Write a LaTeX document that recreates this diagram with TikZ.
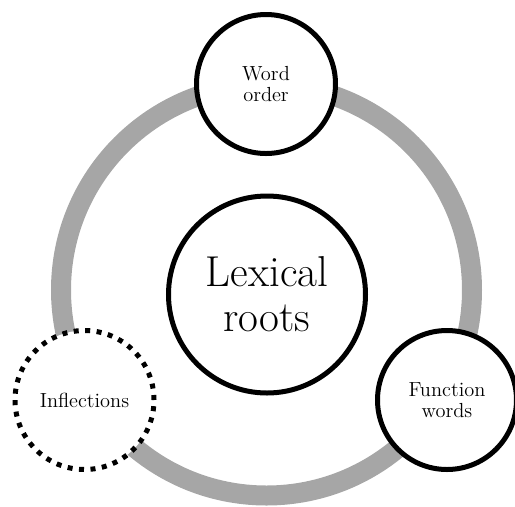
\documentclass[tikz,border=0pt]{standalone}
\usepackage{tikz}
\definecolor{ringgray}{HTML}{A6A6A6}
\tikzset{
  topic/.style={circle, draw=black, line width=0.1cm, fill=white,
    minimum size=2.78cm, inner sep=0pt, align=center,
    font=\fontsize{11.6}{12}\selectfont},
  loosetopic/.style={topic, dash pattern=on 0.1cm off 0.13cm},
  roottopic/.style={topic, minimum size=3.94cm,
    font=\fontsize{24.6}{25.5}\selectfont},
}

\begin{document}
\begin{tikzpicture}
    \useasboundingbox (0,0) rectangle (10.3,-10.12);
    % Gray ring behind everything
    \coordinate (hub) at (5.33,-5.8);
    \draw[ringgray, line width=0.4cm] (hub) circle (4.11);

    % Centre
    \node[roottopic] (roots) at (5.34,-5.89) {Lexical\\roots};

    % Circles on the ring
    \node[topic] (order) at (5.32,-1.68) {Word\\order};
    \node[loosetopic] (inflect) at (1.69,-8.0) {Inflections};
    \node[topic] (function) at (8.94,-8.0) {Function\\words};
\end{tikzpicture}
\end{document}
